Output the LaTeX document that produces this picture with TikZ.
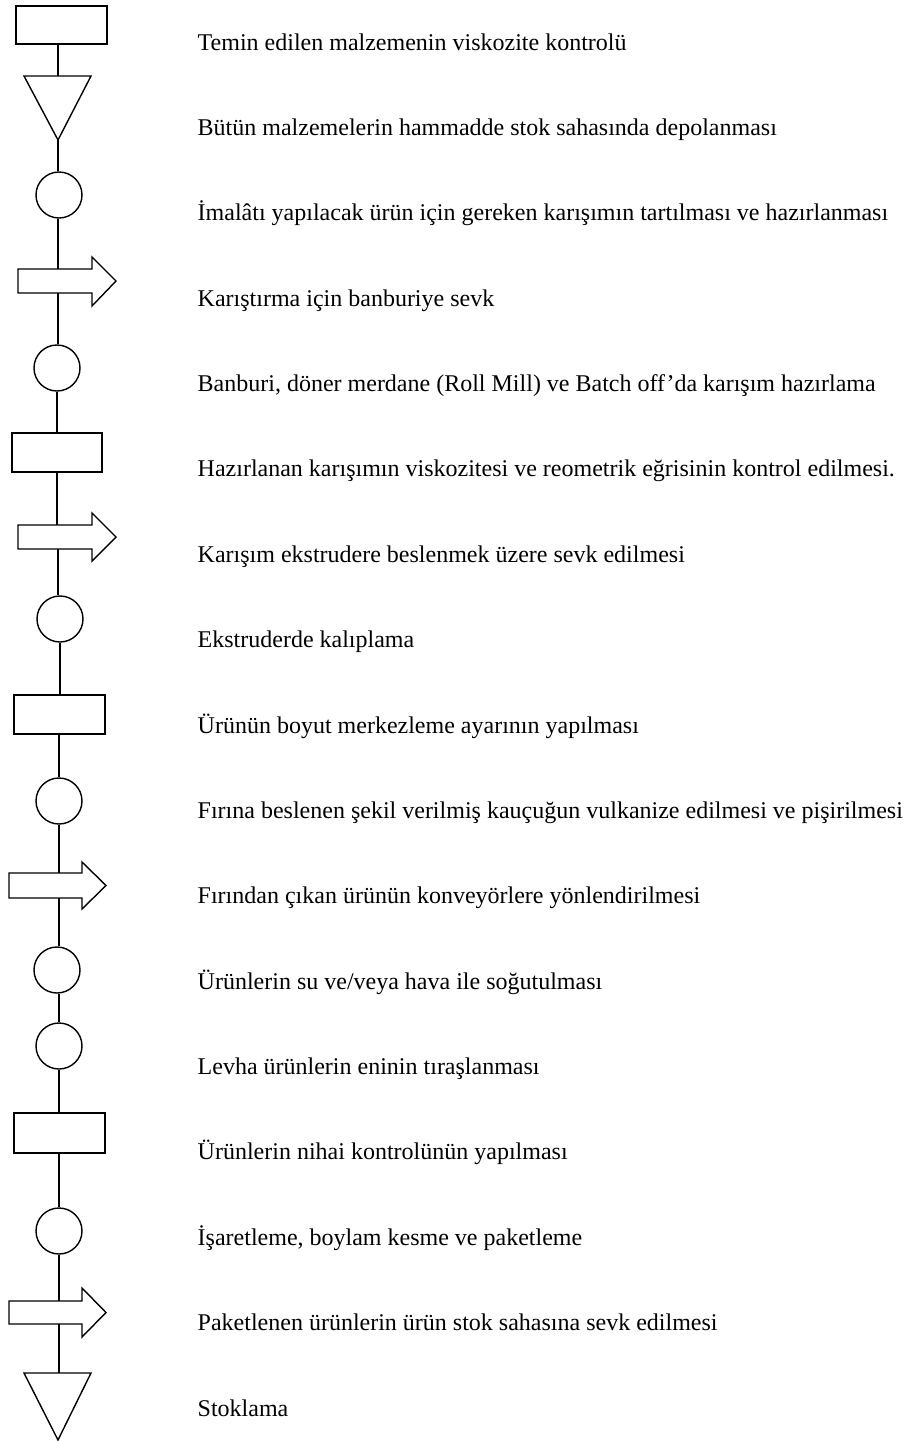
\documentclass[tikz,border=0pt]{standalone}
\usepackage{fontspec}
\setmainfont{Liberation Serif}
\begin{document}
\begin{tikzpicture}[x=1pt,y=-1pt,
  line width=1.4pt, line join=miter,
  box/.style={draw, rectangle, inner sep=0pt, line width=1.4pt},
  op/.style={draw, circle, minimum size=46pt, inner sep=0pt, line width=1.4pt},
  lbl/.style={anchor=base west, inner sep=0pt, font=\fontsize{24}{28}\selectfont},
  link/.style={line width=1.4pt}]
\useasboundingbox (0,0) rectangle (908,1441);

% ---- symbols ----
\node[box, minimum width=91pt, minimum height=38pt] (s1) at (61.5,25) {};
% storage triangle
\draw (24,76) -- (91,76) -- (58,140) -- cycle;
\coordinate (s2t) at (58,76); \coordinate (s2b) at (58,140);
\node[op] (s3) at (59,195) {};
% transport arrow
\draw (18,269) -- (92,269) -- (92,257) -- (116,281) -- (92,306) -- (92,293) -- (18,293) -- cycle;
\coordinate (s4t) at (58,269); \coordinate (s4b) at (58,293);
\node[op] (s5) at (57,368) {};
\node[box, minimum width=90pt, minimum height=39pt] (s6) at (57,452.5) {};
\draw (18,525) -- (92,525) -- (92,513) -- (116,537) -- (92,561) -- (92,549) -- (18,549) -- cycle;
\coordinate (s7t) at (57,525); \coordinate (s7b) at (58,549);
\node[op] (s8) at (60,619) {};
\node[box, minimum width=91pt, minimum height=39pt] (s9) at (59.5,714.5) {};
\node[op] (s10) at (59,801) {};
\draw (9,873) -- (82,873) -- (82,862) -- (106,885.5) -- (82,909) -- (82,898) -- (9,898) -- cycle;
\coordinate (s11t) at (59,873); \coordinate (s11b) at (59,898);
\node[op] (s12) at (57,970) {};
\node[op] (s13) at (59,1046) {};
\node[box, minimum width=91pt, minimum height=40pt] (s14) at (59.5,1133) {};
\node[op] (s15) at (59,1231) {};
\draw (9,1301) -- (82,1301) -- (82,1288) -- (106,1312.5) -- (82,1337) -- (82,1324) -- (9,1324) -- cycle;
\coordinate (s16t) at (59,1301); \coordinate (s16b) at (59,1324);
\draw (24,1373) -- (91,1373) -- (58,1440) -- cycle;
\coordinate (s17t) at (58,1373);

% ---- flow line ----
\draw[link] (s1.south -| s2t) -- (s2t);
\draw[link] (s2b) -- (s3.north -| s2b);
\draw[link] (s3.south -| s4t) -- (s4t);
\draw[link] (s4b) -- (s5.north -| s4b);
\draw[link] (s5.south) -- (s6.north -| s5.south);
\draw[link] (s6.south -| s7t) -- (s7t);
\draw[link] (s7b) -- (s8.north -| s7b);
\draw[link] (s8.south) -- (s9.north -| s8.south);
\draw[link] (s9.south -| s10.north) -- (s10.north);
\draw[link] (s10.south) -- (s11t);
\draw[link] (s11b) -- (s12.north -| s11b);
\draw[link] (s12.south -| s13.north) -- (s13.north);
\draw[link] (s13.south) -- (s14.north -| s13.south);
\draw[link] (s14.south -| s15.north) -- (s15.north);
\draw[link] (s15.south) -- (s16t);
\draw[link] (s16b) -- (s17t -| s16b);

% ---- descriptions ----
\node[lbl] (t1)  at (197,50)      {Temin edilen malzemenin viskozite kontrolü};
\node[lbl] (t2)  at (197,135.4)   {Bütün malzemelerin hammadde stok sahasında depolanması};
\node[lbl] (t3)  at (197,220.8)   {İmalâtı yapılacak ürün için gereken karışımın tartılması ve hazırlanması};
\node[lbl] (t4)  at (197,306.1)   {Karıştırma için banburiye sevk};
\node[lbl] (t5)  at (197,391.5)   {Banburi, döner merdane (Roll Mill) ve Batch off’da karışım hazırlama};
\node[lbl] (t6)  at (197,476.9)   {Hazırlanan karışımın viskozitesi ve reometrik eğrisinin kontrol edilmesi.};
\node[lbl] (t7)  at (197,562.3)   {Karışım ekstrudere beslenmek üzere sevk edilmesi};
\node[lbl] (t8)  at (197,647.6)   {Ekstruderde kalıplama};
\node[lbl] (t9)  at (197,733)     {Ürünün boyut merkezleme ayarının yapılması};
\node[lbl] (t10) at (197,818.4)   {Fırına beslenen şekil verilmiş kauçuğun vulkanize edilmesi ve pişirilmesi};
\node[lbl] (t11) at (197,903.8)   {Fırından çıkan ürünün konveyörlere yönlendirilmesi};
\node[lbl] (t12) at (197,989.1)   {Ürünlerin su ve/veya hava ile soğutulması};
\node[lbl] (t13) at (197,1074.5)  {Levha ürünlerin eninin tıraşlanması};
\node[lbl] (t14) at (197,1159.9)  {Ürünlerin nihai kontrolünün yapılması};
\node[lbl] (t15) at (197,1245.3)  {İşaretleme, boylam kesme ve paketleme};
\node[lbl] (t16) at (197,1330.6)  {Paketlenen ürünlerin ürün stok sahasına sevk edilmesi};
\node[lbl] (t17) at (197,1416)    {Stoklama};
\end{tikzpicture}
\end{document}
